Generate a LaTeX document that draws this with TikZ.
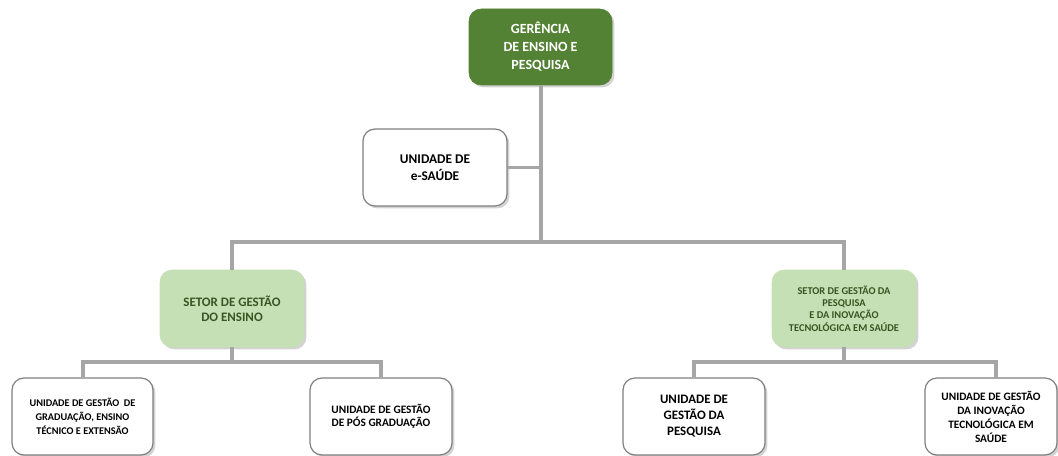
\documentclass[tikz,border=0pt]{standalone}
\usepackage{fontspec}
\setmainfont{Carlito}[BoldFont={Carlito Bold}]
\usetikzlibrary{shadows}
\definecolor{dkgreen}{HTML}{548235}
\definecolor{ltgreen}{HTML}{C5E0B4}
\definecolor{txtgreen}{HTML}{375623}
\definecolor{linegray}{HTML}{A6A6A6}
\definecolor{boxgray}{HTML}{7F7F7F}
\begin{document}
\begin{tikzpicture}[x=0.75pt,y=-0.75pt,
  box/.style={rounded corners=9pt, align=center, inner sep=0pt,
    minimum width=108pt, minimum height=57.75pt,
    drop shadow={shadow xshift=1.8pt,shadow yshift=-1.8pt,opacity=0.35}},
  topbox/.style={box, fill=dkgreen, draw=dkgreen, text=white, minimum width=107.25pt, minimum height=57pt},
  setbox/.style={box, fill=ltgreen, draw=ltgreen, text=txtgreen},
  unitbox/.style={box, fill=white, draw=boxgray, line width=0.9pt, text=black},
  conn/.style={draw=linegray, line width=3pt},
  thinconn/.style={draw=linegray, line width=2.5pt}]
\useasboundingbox (0,0) rectangle (1058,456);

\node[topbox, font=\fontsize{10.5}{13.5}\selectfont\bfseries] (g) at (540.5,47) {GERÊNCIA\\DE ENSINO E\\PESQUISA};
\node[unitbox, font=\fontsize{10}{12.5}\selectfont\bfseries] (e) at (435,167.5) {UNIDADE DE\\e-SAÚDE};
\node[setbox, font=\fontsize{9.7}{11.5}\selectfont\bfseries] (s1) at (232,308.5) {SETOR DE GESTÃO\\DO ENSINO};
\node[setbox, font=\fontsize{7.8}{9.2}\selectfont\bfseries] (s2) at (844,308.5) {SETOR DE GESTÃO DA\\PESQUISA\\E DA INOVAÇÃO\\TECNOLÓGICA EM SAÚDE};
\node[unitbox, minimum width=105.75pt, font=\fontsize{7.7}{10.5}\selectfont\bfseries] (b1) at (82.5,416.5) {UNIDADE DE GESTÃO~~DE\\GRADUAÇÃO, ENSINO\\TÉCNICO E EXTENSÃO};
\node[unitbox, minimum width=106.5pt, font=\fontsize{8.5}{9.5}\selectfont\bfseries] (b2) at (381,416.5) {UNIDADE DE GESTÃO\\DE PÓS GRADUAÇÃO};
\node[unitbox, minimum width=106.5pt, font=\fontsize{9.7}{12}\selectfont\bfseries] (b3) at (694,416.5) {UNIDADE DE\\GESTÃO DA\\PESQUISA};
\node[unitbox, minimum width=99pt, font=\fontsize{8.5}{10.5}\selectfont\bfseries] (b4) at (991,416.5) {UNIDADE DE GESTÃO\\DA INOVAÇÃO\\TECNOLÓGICA EM\\SAÚDE};

\coordinate (hub) at (541,242);
\coordinate (h1) at (232,362);
\coordinate (h2) at (844,362);
\coordinate (b4top) at (996,378);

\draw[conn] (g.south) -- (g.south |- hub);
\draw[thinconn] (e.east) -- (e.east -| hub);
\draw[conn] (s1.north) |- (hub) -| (s2.north);
\draw[conn] (s1.south) -- (h1);
\draw[conn] (b1.north) |- (h1) -| (b2.north);
\draw[conn] (s2.south) -- (h2);
\draw[conn] (b3.north) |- (h2) -| (b4top);
\end{tikzpicture}
\end{document}
